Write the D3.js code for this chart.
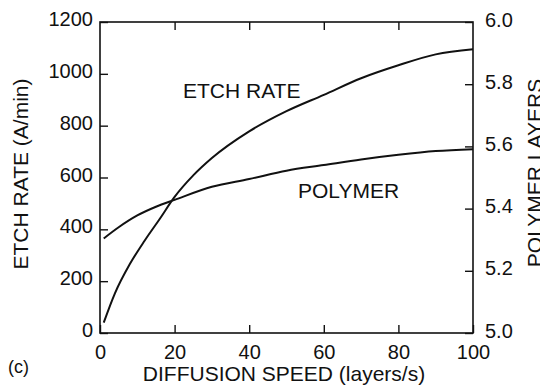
<!DOCTYPE html>
<html>
<head lang="en">
    <meta charset="UTF-8">
    <script type="text/javascript" src="https://d3js.org/d3.v7.min.js"></script>
    <style>
        body { margin: 0; background: #fff; }
        text { font-family: "Liberation Sans", Arial, Helvetica, sans-serif; fill: #111; }
    </style>
</head>
<body>
    <svg id="chart" width="540" height="388"></svg>
    <script>
        // diffusion speed (layers/s) and etch rate (A/min)
        var etchSpeed = [1, 4, 8, 12, 16, 20, 25, 30, 40, 50, 60, 70, 80, 90, 100];
        var etchRate  = [40, 153, 266, 357, 440, 525, 608, 675, 778, 856, 919, 983, 1033, 1075, 1095];

        // diffusion speed and polymer layers (right axis)
        var polySpeed  = [1, 5, 10, 15, 20, 30, 40, 50, 60, 70, 80, 90, 100];
        var polyLayers = [5.304, 5.340, 5.378, 5.406, 5.428, 5.470, 5.495, 5.522, 5.540, 5.558, 5.573, 5.585, 5.591];

        var xTicks = [0, 20, 40, 60, 80, 100];
        var yLeftTicks = [0, 200, 400, 600, 800, 1000, 1200];
        var yRightTicks = [5.0, 5.2, 5.4, 5.6, 5.8, 6.0];

        // plot box (window.top is reserved, so no plain "top")
        var plotLeft = 100, plotRight = 473, plotTop = 22, plotBottom = 333;

        var svg = d3.select("#chart");

        var xScale = d3.scaleLinear().domain([0, 100]).range([plotLeft, plotRight]);
        var yScaleEtch = d3.scaleLinear().domain([0, 1200]).range([plotBottom, plotTop]);
        var yScalePoly = d3.scaleLinear().domain([5.0, 6.0]).range([plotBottom, plotTop]);

        // axes (ticks pointing inward)
        var gLeft = svg.append("g")
            .attr("transform", "translate(" + plotLeft + ",0)")
            .call(d3.axisLeft(yScaleEtch).tickValues(yLeftTicks).tickSize(-8).tickPadding(7).tickFormat(d3.format("d")));
        var gRight = svg.append("g")
            .attr("transform", "translate(" + plotRight + ",0)")
            .call(d3.axisRight(yScalePoly).tickValues(yRightTicks).tickSize(-8).tickPadding(12).tickFormat(d3.format(".1f")));
        var gBottom = svg.append("g")
            .attr("transform", "translate(0," + plotBottom + ")")
            .call(d3.axisBottom(xScale).tickValues(xTicks).tickSize(-8).tickPadding(12));
        var gTop = svg.append("g")
            .attr("transform", "translate(0," + plotTop + ")")
            .call(d3.axisTop(xScale).tickValues(xTicks.slice(1, -1)).tickSize(-8).tickFormat(""));

        [gLeft, gRight, gBottom, gTop].forEach(function(g){
            g.select(".domain").remove();
            g.selectAll(".tick line").attr("stroke", "#111").attr("stroke-width", 1.4);
            g.selectAll(".tick text").attr("font-size", 20).attr("fill", "#111")
                .style("font-family", "'Liberation Sans', Arial, sans-serif");
        });
        gLeft.selectAll(".tick text").attr("dy", "0.18em");
        gRight.selectAll(".tick text").attr("dy", "0.2em");

        // frame
        svg.append("rect")
            .attr("x", plotLeft).attr("y", plotTop)
            .attr("width", plotRight - plotLeft).attr("height", plotBottom - plotTop)
            .attr("fill", "none").attr("stroke", "#111").attr("stroke-width", 1.6);

        // curves
        var etchLine = d3.line()
            .x(function(d, i){ return xScale(etchSpeed[i]); })
            .y(function(d){ return yScaleEtch(d); })
            .curve(d3.curveMonotoneX);
        var polyLine = d3.line()
            .x(function(d, i){ return xScale(polySpeed[i]); })
            .y(function(d){ return yScalePoly(d); })
            .curve(d3.curveMonotoneX);

        svg.append("path").datum(etchRate)
            .attr("d", etchLine)
            .attr("fill", "none").attr("stroke", "#111").attr("stroke-width", 2);
        svg.append("path").datum(polyLayers)
            .attr("d", polyLine)
            .attr("fill", "none").attr("stroke", "#111").attr("stroke-width", 2);

        // in-plot labels
        svg.append("text").attr("x", 183).attr("y", 98)
            .attr("font-size", 21).text("ETCH RATE");
        svg.append("text").attr("x", 298).attr("y", 198)
            .attr("font-size", 21).text("POLYMER");

        // axis titles
        svg.append("text")
            .attr("text-anchor", "middle")
            .attr("transform", "translate(28,174) rotate(-90)")
            .attr("font-size", 21)
            .text("ETCH RATE (A/min)");
        svg.append("text")
            .attr("text-anchor", "middle")
            .attr("transform", "translate(542,173) rotate(-90)")
            .attr("font-size", 21)
            .text("POLYMER LAYERS");
        svg.append("text")
            .attr("text-anchor", "middle")
            .attr("x", 284).attr("y", 381)
            .attr("font-size", 21)
            .text("DIFFUSION SPEED (layers/s)");
        svg.append("text")
            .attr("x", 8).attr("y", 373)
            .attr("font-size", 18)
            .text("(c)");
    </script>
</body>
</html>
